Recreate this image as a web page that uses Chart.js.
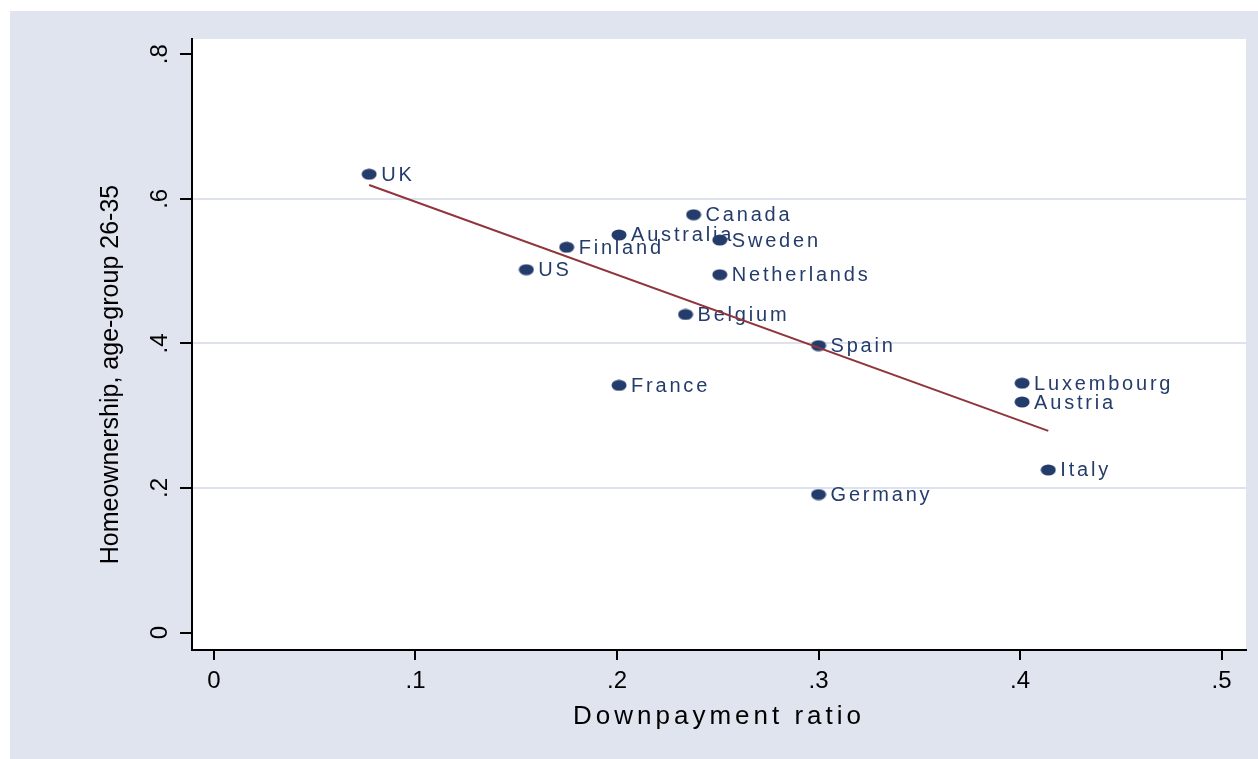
<!DOCTYPE html>
<html>
<head>
<meta charset="utf-8">
<title>Homeownership and downpayment ratio</title>
<script src="https://cdn.jsdelivr.net/npm/chart.js@4/dist/chart.umd.min.js"></script>
<style>
  html, body { margin: 0; padding: 0; background: #ffffff; }
  #wrap { width: 1258px; height: 759px; }
  canvas { display: block; }
</style>
</head>
<body>
<div id="wrap"><canvas id="chart" width="1258" height="759"></canvas></div>
<script>
// Country observations: downpayment ratio (x) and homeownership of 26-35 year olds (y)
const countries = ['UK', 'US', 'Finland', 'Australia', 'Canada', 'Sweden', 'Netherlands',
                   'Belgium', 'France', 'Spain', 'Germany', 'Luxembourg', 'Austria', 'Italy'];
const downpayment = [0.077, 0.155, 0.175, 0.201, 0.238, 0.251, 0.251,
                     0.234, 0.201, 0.300, 0.300, 0.401, 0.401, 0.414];
const ownership = [0.634, 0.502, 0.533, 0.550, 0.578, 0.543, 0.495,
                   0.440, 0.342, 0.397, 0.191, 0.345, 0.319, 0.225];

// Fitted line end points
const fitX = [0.077, 0.414];
const fitY = [0.619, 0.279];

// Axis ticks
const xTickValues = [0, 0.1, 0.2, 0.3, 0.4, 0.5];
const xTickLabels = ['0', '.1', '.2', '.3', '.4', '.5'];
const yTickValues = [0, 0.2, 0.4, 0.6, 0.8];
const yTickLabels = ['0', '.2', '.4', '.6', '.8'];
const yGridValues = [0.2, 0.4, 0.6];

const FONT = '"Liberation Sans", Arial, Helvetica, sans-serif';
const NAVY = '#243c6c';
const MAROON = '#90353b';
const PANEL = '#e0e4ef';
const GRID = '#dde2ee';

// Oval marker
function makeMarker(w, h, color) {
  const c = document.createElement('canvas');
  c.width = w; c.height = h;
  const g = c.getContext('2d');
  g.fillStyle = color;
  g.beginPath();
  g.ellipse(w / 2, h / 2, w / 2 - 0.5, h / 2 - 0.5, 0, 0, Math.PI * 2);
  g.fill();
  return c;
}
const marker = makeMarker(16, 12, NAVY);

const points = countries.map((c, i) => ({ x: downpayment[i], y: ownership[i] }));
const fitLine = fitX.map((x, i) => ({ x: x, y: fitY[i] }));

// Panel and plot-region backgrounds
const backgroundPlugin = {
  id: 'panels',
  beforeDraw(chart) {
    const { ctx, chartArea } = chart;
    ctx.save();
    ctx.fillStyle = PANEL;
    ctx.fillRect(10, 11, chart.width - 10, chart.height - 11);
    ctx.fillStyle = '#ffffff';
    ctx.fillRect(chartArea.left, chartArea.top,
                 chartArea.right - chartArea.left, chartArea.bottom - chartArea.top);
    ctx.restore();
  }
};

// Country names beside the markers (drawn beneath markers and fitted line)
const pointLabelPlugin = {
  id: 'pointLabels',
  beforeDatasetsDraw(chart) {
    const meta = chart.getDatasetMeta(1);
    const ctx = chart.ctx;
    ctx.save();
    ctx.font = '20px ' + FONT;
    ctx.fillStyle = NAVY;
    ctx.textAlign = 'left';
    ctx.textBaseline = 'middle';
    ctx.letterSpacing = '2.8px';
    meta.data.forEach((el, i) => {
      ctx.fillText(countries[i], el.x + 12, el.y + 1);
    });
    ctx.restore();
  }
};

// Axis-title styling: spaced x title, y title set lower along the axis
const titlePlugin = {
  id: 'titleStyle',
  afterLayout(chart) {
    const xs = chart.scales.x, ys = chart.scales.y;
    if (!xs._styledTitle) {
      const fx = xs.drawTitle;
      xs.drawTitle = function () {
        const c = this.ctx; c.save(); c.letterSpacing = '4px'; fx.call(this); c.restore();
      };
      xs._styledTitle = true;
    }
    if (!ys._styledTitle) {
      const fy = ys.drawTitle;
      ys.drawTitle = function () {
        const c = this.ctx; c.save(); c.translate(0, 30); fy.call(this); c.restore();
      };
      ys._styledTitle = true;
    }
  }
};

new Chart(document.getElementById('chart'), {
  type: 'scatter',
  data: {
    datasets: [
      {
        type: 'line',
        label: 'Fitted values',
        data: fitLine,
        borderColor: MAROON,
        borderWidth: 2,
        pointRadius: 0,
        fill: false,
        tension: 0,
        order: 0
      },
      {
        label: 'Homeownership',
        data: points,
        pointStyle: marker,
        pointRadius: 7,
        backgroundColor: NAVY,
        borderColor: NAVY,
        order: 1
      }
    ]
  },
  options: {
    responsive: false,
    animation: false,
    events: [],
    layout: { padding: { left: 0, top: 39, right: 12, bottom: 0 } },
    plugins: { legend: { display: false }, tooltip: { enabled: false } },
    scales: {
      x: {
        type: 'linear',
        min: -0.0109,
        max: 0.5121,
        afterBuildTicks: s => { s.ticks = xTickValues.map(v => ({ value: v })); },
        afterFit: s => { s.height = 109; },
        ticks: {
          padding: 7,
          color: '#000',
          maxRotation: 0,
          font: { size: 24, family: FONT },
          callback: (v, i) => xTickLabels[i]
        },
        grid: {
          drawOnChartArea: false,
          tickColor: '#000',
          tickLength: 10,
          tickWidth: 2,
          lineWidth: 2
        },
        border: { color: '#000', width: 2 },
        title: {
          display: true,
          text: 'Downpayment ratio',
          color: '#000',
          font: { size: 26, family: FONT },
          padding: { top: 0, bottom: 27 }
        }
      },
      y: {
        type: 'linear',
        min: -0.024,
        max: 0.821,
        afterBuildTicks: s => { s.ticks = yTickValues.map(v => ({ value: v })); },
        afterFit: s => { s.width = 192; },
        ticks: {
          minRotation: 90,
          maxRotation: 90,
          crossAlign: 'center',
          padding: 10,
          color: '#000',
          font: { size: 24, family: FONT },
          callback: (v, i) => yTickLabels[i]
        },
        grid: {
          color: c => (c.tick && yGridValues.includes(c.tick.value)) ? GRID : 'rgba(0,0,0,0)',
          lineWidth: 2,
          tickColor: '#000',
          tickLength: 12,
          tickWidth: 2
        },
        border: { color: '#000', width: 2 },
        title: {
          display: true,
          text: 'Homeownership, age-group 26-35',
          color: '#000',
          font: { size: 25, family: FONT },
          padding: { top: 96, bottom: 0 }
        }
      }
    }
  },
  plugins: [backgroundPlugin, pointLabelPlugin, titlePlugin]
});
</script>
</body>
</html>
